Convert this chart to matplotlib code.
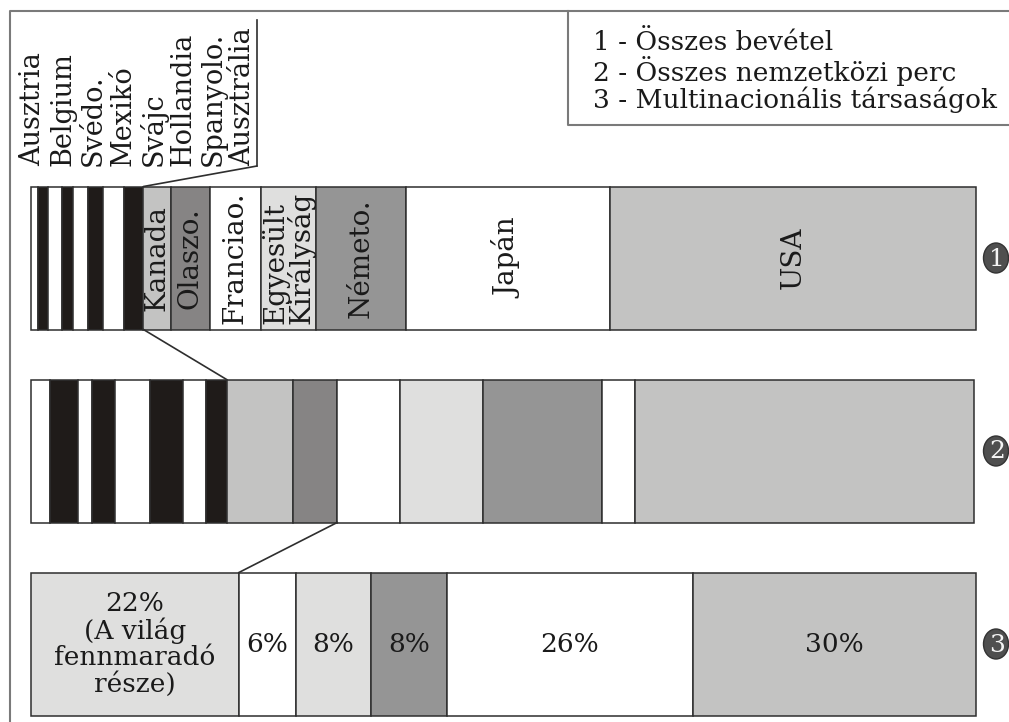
import matplotlib
matplotlib.use('Agg')
import matplotlib.pyplot as plt
from matplotlib.patches import Ellipse, ConnectionPatch
import numpy as np

W, H = 1009, 722

# kis országok (csíkos rész) és nagy országok
small_countries = ['Ausztria', 'Belgium', 'Svédo.', 'Mexikó', 'Svájc',
                   'Hollandia', 'Spanyolo.', 'Ausztrália']
big_countries = ['Kanada', 'Olaszo.', 'Franciao.', 'Egyesült\nKirályság',
                 'Németo.', 'Japán', 'USA']

# 1 - összes bevétel, részesedés %
revenue_small = [0.7, 1.1, 1.5, 1.1, 1.6, 1.6, 2.2, 2.1]
revenue_big = [2.9, 4.1, 5.4, 5.9, 9.5, 21.6, 38.7]

# 2 - összes nemzetközi perc, részesedés %
minutes_small = [2.0, 3.0, 1.5, 2.4, 3.7, 3.5, 2.4, 2.2]
minutes_big = [7.0, 4.7, 6.7, 8.7, 12.6, 3.5, 35.9]

# 3 - multinacionális társaságok, részesedés %
mnc_share = [22, 6, 8, 8, 26, 30]
mnc_extra = ['\n(A világ\nfennmaradó\nrésze)', '', '', '', '', '']

legend_lines = ['1 - Összes bevétel', '2 - Összes nemzetközi perc',
                '3 - Multinacionális társaságok']

stripe_colors = ['#ffffff', '#1f1b19'] * 4
big_colors = ['#c3c3c2', '#868484', '#ffffff', '#dfdfde', '#959595', '#ffffff', '#c3c3c2']
mnc_colors = ['#dfdfde', '#ffffff', '#dfdfde', '#959595', '#ffffff', '#c3c3c2']

plt.rcParams['font.family'] = ['DejaVu Serif']
TXT = '#1a1a1a'
EDGE = '#2e2e2e'

fig = plt.figure(figsize=(W / 100, H / 100), dpi=100)

# sávok: x tengely %-ban (0% -> 31 px, 100% -> 976 px), y pixelben
ax = fig.add_axes([0, 0, 1, 1])
px_per_pct = 9.45
ax.set_xlim(-31 / px_per_pct, (W - 31) / px_per_pct)
ax.set_ylim(H, 0)
ax.axis('off')

# rajzolási réteg pixel koordinátákkal
ov = fig.add_axes([0, 0, 1, 1], zorder=3)
ov.set_xlim(0, W)
ov.set_ylim(H, 0)
ov.axis('off')
ov.patch.set_alpha(0)

bar_h = 143
row_y = [258, 451, 644]

rows = [
    (revenue_small + revenue_big, stripe_colors + big_colors),
    (minutes_small + minutes_big, stripe_colors + big_colors),
    (mnc_share, mnc_colors),
]
lefts = []
for yc, (shares, colors) in zip(row_y, rows):
    shares = np.array(shares, dtype=float)
    left = np.concatenate([[0], np.cumsum(shares)[:-1]])
    lefts.append((left, shares))
    ax.barh(yc, shares, left=left, height=bar_h, color=colors,
            edgecolor=EDGE, linewidth=1.1, zorder=2)

# országnevek az 1. sávban
left1, w1 = lefts[0]
n_small = len(small_countries)
for i, name in enumerate(big_countries):
    j = n_small + i
    xc = left1[j] + w1[j] / 2
    ax.text(xc, row_y[0], name, rotation=90, ha='center', va='center',
            multialignment='left', fontsize=20, color=TXT, linespacing=0.88,
            zorder=3)

# százalékok a 3. sávban
left3, w3 = lefts[2]
for j, v in enumerate(mnc_share):
    xc = left3[j] + w3[j] / 2
    ax.text(xc, row_y[2], f'{v}%' + mnc_extra[j], ha='center', va='center',
            fontsize=19, color=TXT, linespacing=1.05, zorder=3)

# összekötő vonalak a sávok között
left2, w2 = lefts[1]
c1 = left1[n_small]
c2 = left2[n_small]
c2b = left2[n_small + 2]
c3 = left3[1]
ax.plot([c1, c2], [row_y[0] + bar_h / 2, row_y[1] - bar_h / 2], color=EDGE, lw=1.2)
ax.plot([c2b, c3], [row_y[1] + bar_h / 2, row_y[2] - bar_h / 2], color=EDGE, lw=1.2)

# kis országok nevei felül, függőlegesen
for i, name in enumerate(small_countries):
    ov.text(33 + i * 30, 166, name, rotation=90, ha='center', va='bottom',
            fontsize=19.5, color=TXT)
ov.plot([257, 257], [20, 166], color=EDGE, lw=1.2)
con = ConnectionPatch(xyA=(c1, row_y[0] - bar_h / 2), coordsA=ax.transData,
                      xyB=(257, 166), coordsB=ov.transData, color=EDGE, lw=1.2)
fig.add_artist(con)

# keret és jelmagyarázat
frame = '#7a7a7a'
ov.plot([10, 10, W + 5], [H + 5, 11, 11], color=frame, lw=1.5)
ov.plot([W + 5, 568, 568], [125, 125, 11], color=frame, lw=1.5)
for k, line in enumerate(legend_lines):
    ov.text(593, 42 + k * 29, line, ha='left', va='center', fontsize=19, color=TXT)

# sorszámok a sávok mellett
for k, yc in enumerate(row_y):
    ov.add_patch(Ellipse((996, yc), 25, 30, facecolor='#4f4f4f', edgecolor='#333333', lw=1))
    ov.text(997, yc + 1, str(k + 1), ha='center', va='center', fontsize=18,
            color='#f4f4f4')

fig.savefig('out.png', dpi=100)
